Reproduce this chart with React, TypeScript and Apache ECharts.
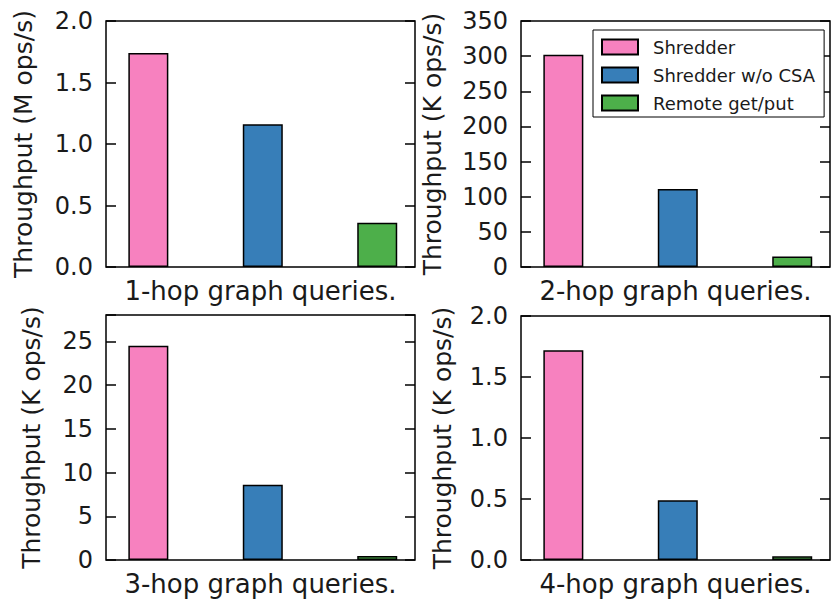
import React, { useEffect, useRef } from "react";
import * as echarts from "echarts";

const categories = ["Shredder", "Shredder w/o CSA", "Remote get/put"];
const barColors = ["#f781bf", "#377eb8", "#4daf4a"];

const hop1 = [1.74, 1.16, 0.36];
const hop2 = [302, 111, 15];
const hop3 = [24.5, 8.6, 0.45];
const hop4 = [1.72, 0.49, 0.03];
const panelValues = [hop1, hop2, hop3, hop4];

const xTitles = [
  "1-hop graph queries.",
  "2-hop graph queries.",
  "3-hop graph queries.",
  "4-hop graph queries.",
];
const yTitles = [
  "Throughput (M ops/s)",
  "Throughput (K ops/s)",
  "Throughput (K ops/s)",
  "Throughput (K ops/s)",
];
const yMax = [2, 350, 28, 2];
const yStep = [0.5, 50, 5, 0.5];
const yDecimals = [1, 0, 0, 1];

const FONT = "DejaVu Sans";
const TEXT = "#1a1a1a";

const grids = [
  { left: 106, top: 21, width: 309, height: 246 },
  { left: 521, top: 21, width: 309, height: 246 },
  { left: 106, top: 315, width: 309, height: 245 },
  { left: 521, top: 316, width: 309, height: 244 },
];
const yNameGaps = [70, 76, 62, 66];

export default function App() {
  const ref = useRef<HTMLDivElement>(null);

  useEffect(() => {
    if (!ref.current) return;
    const chart = echarts.init(ref.current, undefined, { renderer: "svg" });

    const grid = grids.map((g) => ({
      ...g,
      show: true,
      borderColor: "#000",
      borderWidth: 1.5,
      backgroundColor: "#fff",
      containLabel: false,
    }));

    const xAxis = grids.map((_, i) => ({
      type: "value",
      gridIndex: i,
      min: -0.37,
      max: 2.33,
      axisLine: { show: false, onZero: false },
      axisTick: { show: false },
      axisLabel: { show: false },
      splitLine: { show: false },
      name: xTitles[i],
      nameLocation: "middle",
      nameGap: 11,
      nameTextStyle: {
        fontSize: 26,
        fontFamily: FONT,
        color: TEXT,
        verticalAlign: "top",
      },
    }));

    const yAxis: any[] = [];
    grids.forEach((_, i) => {
      const common = {
        type: "value",
        gridIndex: i,
        min: 0,
        max: yMax[i],
        interval: yStep[i],
        axisLine: { show: false, onZero: false },
        axisTick: {
          show: true,
          inside: true,
          length: 10,
          lineStyle: { color: "#000", width: 1.5 },
        },
        splitLine: { show: false },
      };
      yAxis.push({
        ...common,
        position: "left",
        axisLabel: {
          fontSize: 24,
          fontFamily: FONT,
          color: TEXT,
          margin: 13,
          formatter: (v: number) => {
            const r = v / yStep[i];
            if (Math.abs(r - Math.round(r)) > 1e-6) return "";
            return v.toFixed(yDecimals[i]);
          },
        },
        name: yTitles[i],
        nameLocation: "middle",
        nameGap: yNameGaps[i],
        nameTextStyle: { fontSize: 25, fontFamily: FONT, color: TEXT },
      });
      yAxis.push({
        ...common,
        position: "right",
        axisLabel: { show: false },
      });
    });

    const series: any[] = [];
    panelValues.forEach((vals, i) => {
      vals.forEach((v, k) => {
        series.push({
          type: "bar",
          name: categories[k],
          xAxisIndex: i,
          yAxisIndex: 2 * i,
          data: [[k, v]],
          barWidth: 40,
          barGap: "-100%",
          itemStyle: {
            color: barColors[k],
            borderColor: "#000",
            borderWidth: 1.5,
          },
        });
      });
    });

    chart.setOption({
      animation: false,
      backgroundColor: "#fff",
      grid,
      xAxis,
      yAxis,
      series,
      legend: {
        show: true,
        data: categories,
        orient: "vertical",
        left: 593,
        top: 30,
        icon: "rect",
        itemWidth: 36,
        itemHeight: 15,
        itemGap: 10,
        padding: [8, 9, 5, 8],
        borderColor: "#000",
        borderWidth: 1,
        backgroundColor: "#fff",
        textStyle: {
          fontSize: 18,
          fontFamily: FONT,
          color: TEXT,
          padding: [0, 0, 0, 10],
        },
      },
    });

    return () => chart.dispose();
  }, []);

  return (
    <div
      ref={ref}
      style={{ position: "absolute", left: 0, top: 0, width: 831, height: 600 }}
    />
  );
}
